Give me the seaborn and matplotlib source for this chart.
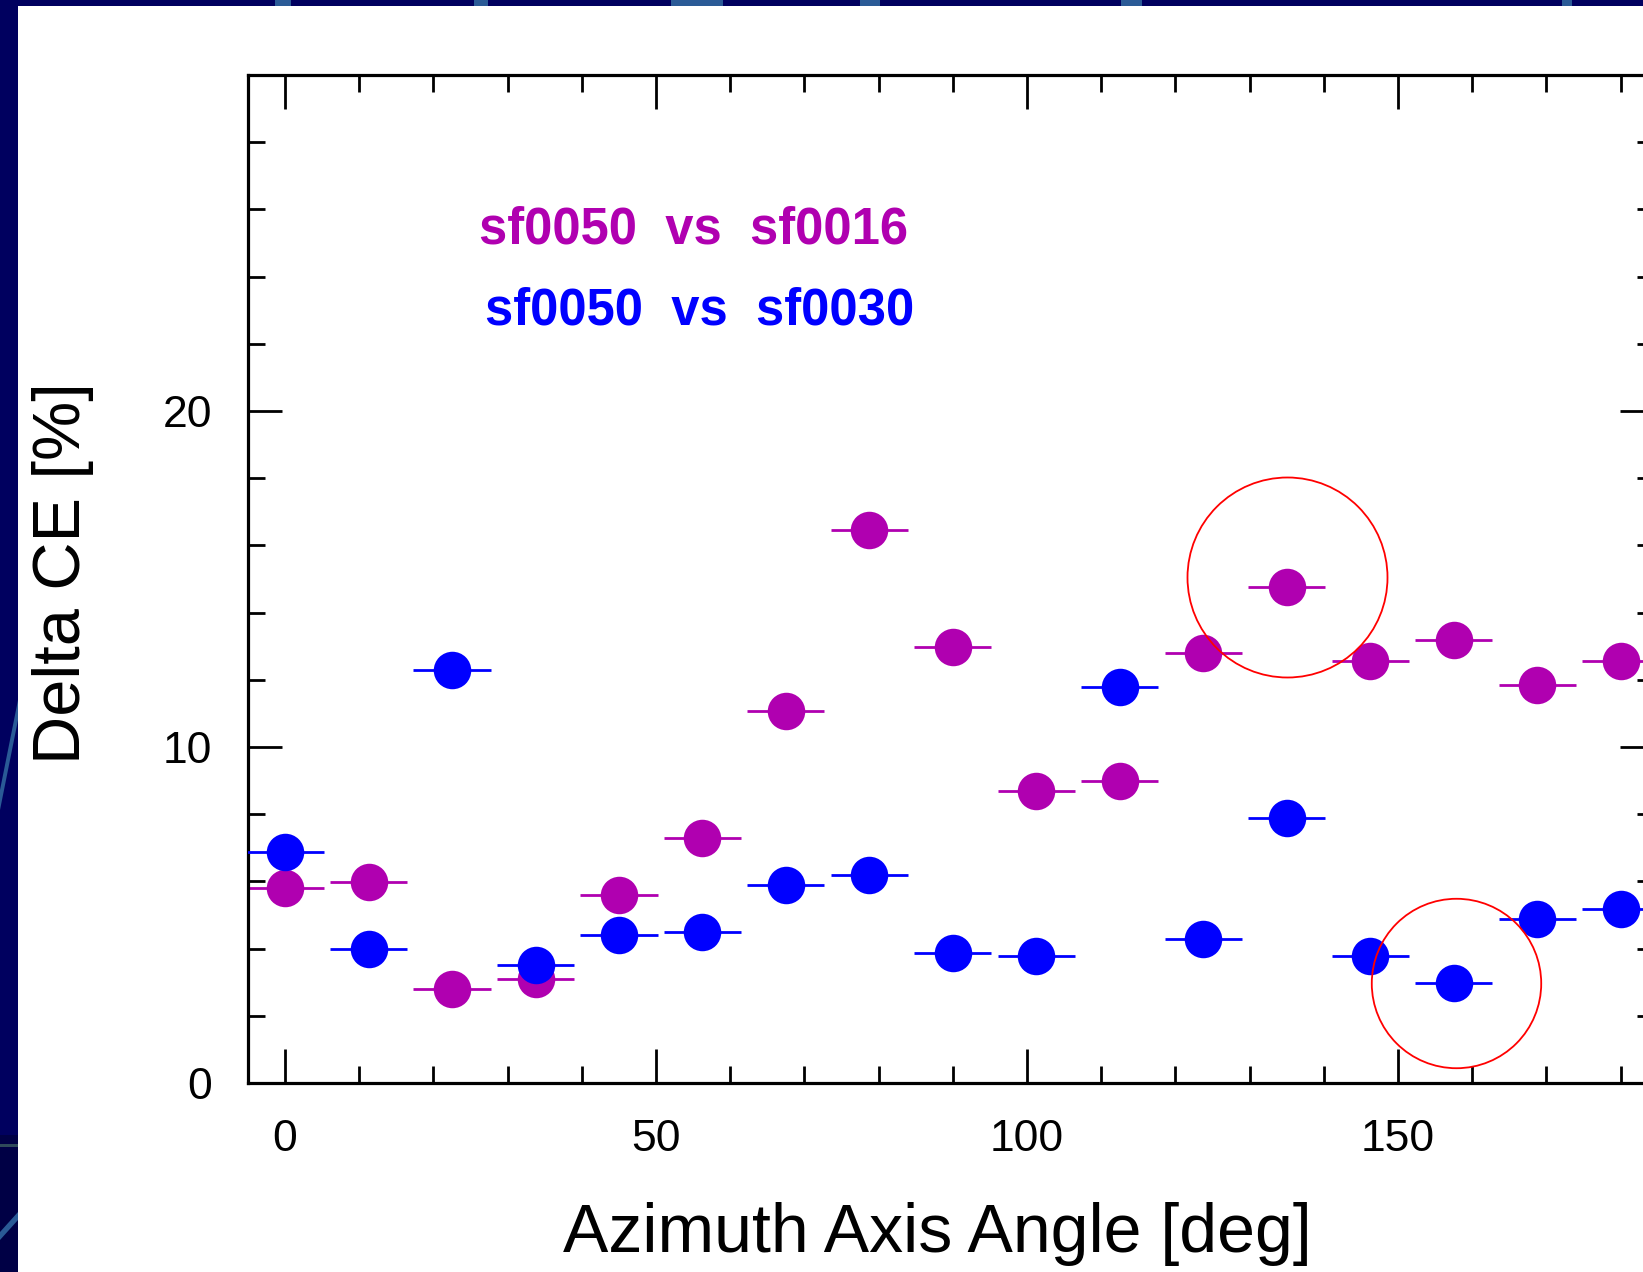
import matplotlib
matplotlib.use("Agg")
import matplotlib.pyplot as plt
import numpy as np
import pandas as pd
import seaborn as sns
from matplotlib.patches import Rectangle, Polygon
from matplotlib.ticker import MultipleLocator, FixedLocator

# ---------------- data ----------------
angles = [0, 11.25, 22.5, 33.75, 45, 56.25, 67.5, 78.75, 90,
          101.25, 112.5, 123.75, 135, 146.25, 157.5, 168.75, 180]
ce_vs_sf0016 = [5.79, 5.99, 2.79, 3.09, 5.59, 7.29, 11.08, 16.46, 12.98,
                8.69, 8.98, 12.79, 14.77, 12.57, 13.18, 11.86, 12.57]
ce_vs_sf0030 = [6.88, 3.99, 12.28, 3.50, 4.40, 4.49, 5.89, 6.19, 3.88,
                3.79, 11.79, 4.28, 7.88, 3.79, 2.99, 4.88, 5.18]
angle_halfwidth = 5.2
label_16 = "sf0050  vs  sf0016"
label_30 = "sf0050  vs  sf0030"
circled_angle = [135.0, 157.8]
circled_ce = [15.06, 2.97]
x_ticks = [0, 50, 100, 150]
y_ticks = [0, 10, 20]

# ---------------- style ----------------
W, H = 1643, 1272
MAGENTA = "#b000b0"
BLUE = "#0000ff"

sns.set_theme(style="ticks")
plt.rcParams["font.family"] = ["Liberation Sans", "DejaVu Sans"]

fig = plt.figure(figsize=(W / 100, H / 100), dpi=100)
fig.patch.set_facecolor("#00005f")

# slide background decorations (lighter streaks in the dark frame)
streak = "#2a5a96"
for x0, x1 in [(275, 291), (474, 488), (671, 723), (860, 880), (1121, 1142), (1562, 1572)]:
    fig.patches.append(Rectangle((x0 / W, 1 - 6 / H), (x1 - x0) / W, 6 / H,
                                 transform=fig.transFigure, facecolor=streak,
                                 edgecolor="none", zorder=-3))
fig.patches.append(Polygon([(0, 1 - 790 / H), (18 / W, 1 - 700 / H), (18 / W, 1 - 720 / H), (0, 1 - 810 / H)],
                           closed=True, transform=fig.transFigure, facecolor=streak,
                           edgecolor="none", zorder=-3))
fig.patches.append(Rectangle((0, 1 - 1272 / H), 18 / W, (1272 - 1135) / H,
                             transform=fig.transFigure, facecolor="#000045",
                             edgecolor="none", zorder=-3))
fig.patches.append(Rectangle((0, 1 - 1147 / H), 18 / W, 3 / H,
                             transform=fig.transFigure, facecolor="#2f4a5a",
                             edgecolor="none", zorder=-3))
fig.patches.append(Polygon([(0, 1 - 1232 / H), (18 / W, 1 - 1212 / H), (18 / W, 1 - 1220 / H), (0, 1 - 1240 / H)],
                           closed=True, transform=fig.transFigure, facecolor=streak,
                           edgecolor="none", zorder=-3))
# white slide area
fig.patches.append(Rectangle((18 / W, 0), 1, 1 - 6 / H, transform=fig.transFigure,
                             facecolor="white", edgecolor="none", zorder=-2))

ax = fig.add_axes([248 / W, 1 - 1083 / H, 1406 / W, 1008 / H])
ax.set_facecolor("white")

series = [(ce_vs_sf0016, MAGENTA, 2), (ce_vs_sf0030, BLUE, 4)]
for vals, col, z in series:
    ax.errorbar(angles, vals, xerr=angle_halfwidth, fmt="none", ecolor=col,
                elinewidth=2.0, capsize=0, zorder=z)
    sns.scatterplot(x=angles, y=vals, color=col, s=27 ** 2, linewidth=0,
                    marker="o", ax=ax, zorder=z + 1, legend=False)

# highlighted points (red circles)
for cx, cy, ms in zip(circled_angle, circled_ce, [144, 122]):
    ax.plot([cx], [cy], marker="o", ms=ms, mfc="none", mec="#ff0000",
            mew=1.3, ls="none", zorder=8, clip_on=False)

ax.set_xlim(-5, 184.5)
ax.set_ylim(0, 30)
ax.xaxis.set_major_locator(FixedLocator(x_ticks))
ax.xaxis.set_minor_locator(MultipleLocator(10))
ax.yaxis.set_major_locator(FixedLocator(y_ticks))
ax.yaxis.set_minor_locator(MultipleLocator(2))
ax.set_xticklabels([str(t) for t in x_ticks])
ax.set_yticklabels([str(t) for t in y_ticks])

ax.tick_params(which="both", direction="in", top=True, right=True,
               color="black", labelcolor="black")
ax.tick_params(which="major", length=24.5, width=2.0, pad=26, labelsize=32)
ax.tick_params(which="minor", length=12.5, width=2.0)
for sp in ax.spines.values():
    sp.set_visible(True)
    sp.set_linewidth(2.3)
    sp.set_color("black")

ax.set_xlabel("Azimuth Axis Angle [deg]", fontsize=49, color="black")
ax.xaxis.set_label_coords(0.49, -0.118)
ax.set_ylabel("Delta CE [%]", fontsize=48, color="black")
ax.yaxis.set_label_coords(-0.1095, 0.506)

fig.text(479 / W, 1 - 244 / H, label_16, color=MAGENTA, fontsize=36.5,
         fontweight="bold", ha="left", va="baseline")
fig.text(485 / W, 1 - 324 / H, label_30, color=BLUE, fontsize=36.5,
         fontweight="bold", ha="left", va="baseline")

fig.savefig("out.png", dpi=100, facecolor=fig.get_facecolor())
